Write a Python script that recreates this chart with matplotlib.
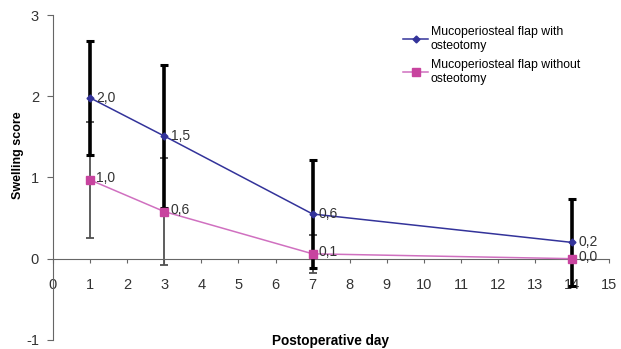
import matplotlib.pyplot as plt

plt.rcParams['font.family'] = ['Liberation Sans', 'DejaVu Sans']
plt.rcParams['axes.unicode_minus'] = False

# data
days = [1, 3, 7, 14]
with_osteotomy = [1.98, 1.51, 0.55, 0.20]
with_sd = [0.70, 0.88, 0.66, 0.53]
without_osteotomy = [0.97, 0.58, 0.06, 0.00]
without_sd = [0.71, 0.66, 0.23, 0.0]
with_labels = ["2,0", "1,5", "0,6", "0,2"]
without_labels = ["1,0", "0,6", "0,1", "0,0"]
x_ticks = list(range(0, 16))
y_ticks = [-1, 0, 1, 2, 3]

blue = "#33339a"
pink = "#d070c0"
pink_marker = "#c8449f"

fig = plt.figure(figsize=(6.21, 3.49), dpi=100)
ax = fig.add_axes([0.0853, 0.026, 0.896, 0.931])

# error bars first so the lines sit on top
ax.errorbar(days, without_osteotomy, yerr=without_sd, fmt="none", ecolor="#505050",
            elinewidth=1.3, capsize=3, capthick=1.3, zorder=2)
ax.errorbar(days, with_osteotomy, yerr=with_sd, fmt="none", ecolor="black",
            elinewidth=2.6, capsize=3, capthick=2.2, zorder=3)

ax.plot(days, with_osteotomy, color=blue, lw=1.1, marker="D", ms=3.5,
        label="Mucoperiosteal flap with\nosteotomy", zorder=4)
ax.plot(days, without_osteotomy, color=pink, lw=1.1, marker="s", ms=5.5,
        mfc=pink_marker, mec=pink_marker,
        label="Mucoperiosteal flap without\nosteotomy", zorder=4)

for x, y, t in zip(days, with_osteotomy, with_labels):
    ax.text(x + 0.17, y, t, fontsize=10, color="#333333", va="center", ha="left", zorder=5)
for x, y, t in zip(days, without_osteotomy, without_labels):
    ax.text(x + 0.17, y + 0.02, t, fontsize=10, color="#333333", va="center", ha="left", zorder=5)

ax.set_xlim(0, 15)
ax.set_ylim(-1, 3)
ax.set_xticks(x_ticks)
ax.set_yticks(y_ticks)

ax.spines["top"].set_visible(False)
ax.spines["right"].set_visible(False)
ax.spines["bottom"].set_position(("data", 0))
ax.spines["bottom"].set_color("#666666")
ax.spines["left"].set_color("#666666")

ax.tick_params(axis="x", direction="out", length=3, color="#666666",
               labelsize=10.5, labelcolor="#333333", pad=11)
ax.tick_params(axis="y", direction="out", length=4, color="#666666",
               labelsize=10.5, labelcolor="#333333", pad=6)

fig.text(18 / 621, 1 - 155 / 349, "Swelling score", rotation=90, ha="center",
         va="center", fontsize=9, fontweight="bold")
fig.text(331 / 621, 1 - 341 / 349, "Postoperative day", ha="center",
         va="center", fontsize=9.8, fontweight="bold")

ax.legend(loc="upper left", bbox_to_anchor=(0.61, 1.0), frameon=False,
          fontsize=8.8, handlelength=2.0, handletextpad=0.25, labelspacing=0.6)

fig.savefig("out.png", dpi=100)
